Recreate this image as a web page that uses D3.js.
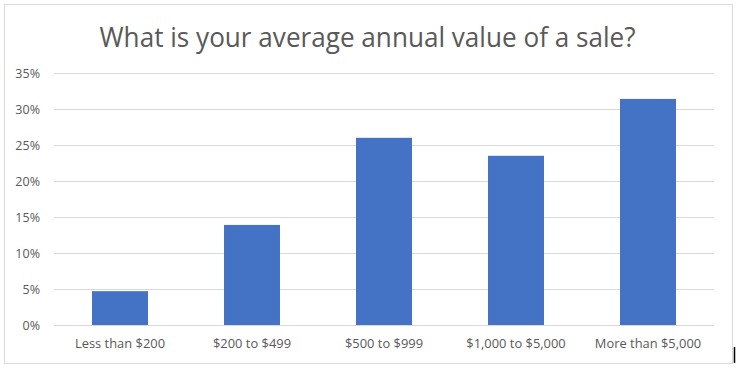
<!DOCTYPE html>
<html>
<head>
<meta charset="utf-8">
<script src="https://cdn.jsdelivr.net/npm/d3@7"></script>
<style>
  html, body { margin: 0; padding: 0; background: #fff; }
  svg { display: block; }
  text { font-family: "Open Sans", sans-serif; fill: #595959; }
</style>
</head>
<body>
<svg id="chart" width="739" height="372"></svg>
<script>
const title = "What is your average annual value of a sale?";
const categories = ["Less than $200", "$200 to $499", "$500 to $999", "$1,000 to $5,000", "More than $5,000"];
const values = [0.047, 0.139, 0.260, 0.235, 0.314];
const yTicks = [0, 0.05, 0.10, 0.15, 0.20, 0.25, 0.30, 0.35];

const svg = d3.select("#chart");
const W = 739, H = 372;
const m = { left: 54, right: 25, top: 73, bottom: 47 };

// chart frame
svg.append("rect").attr("x", 4.5).attr("y", 4.5).attr("width", 728).attr("height", 359)
  .attr("fill", "#fff").attr("stroke", "#d9d9d9").attr("stroke-width", 1);

const x = d3.scaleBand().domain(categories).range([m.left, W - m.right]).paddingInner(0.576).paddingOuter(0.288);
const y = d3.scaleLinear().domain([0, 0.35]).range([H - m.bottom, m.top]);

// gridlines
svg.append("g").selectAll("line").data(yTicks).join("line")
  .attr("x1", m.left).attr("x2", W - m.right)
  .attr("y1", d => Math.round(y(d)) + 0.5).attr("y2", d => Math.round(y(d)) + 0.5)
  .attr("stroke", "#d9d9d9").attr("stroke-width", 1);

// y axis labels
const yAxis = d3.axisLeft(y).tickValues(yTicks).tickFormat(d3.format(".0%")).tickSize(0).tickPadding(0);
const yg = svg.append("g").attr("transform", `translate(40,0)`).call(yAxis);
yg.select(".domain").remove();
yg.selectAll("text").style("font-family", "'Open Sans', sans-serif").style("font-size", "12.5px").attr("fill", "#595959");

// bars
svg.append("g").selectAll("rect").data(values).join("rect")
  .attr("x", (d, i) => x(categories[i]))
  .attr("width", x.bandwidth())
  .attr("y", d => y(d))
  .attr("height", d => y(0) - y(d))
  .attr("fill", "#4472c4");

// x axis labels
const xAxis = d3.axisBottom(x).tickSize(0).tickPadding(0);
const xg = svg.append("g").attr("transform", `translate(0,${H - m.bottom})`).call(xAxis);
xg.select(".domain").remove();
const xt = xg.selectAll("text").attr("dy", null).attr("y", 23)
  .style("font-family", "'Open Sans', sans-serif").style("font-size", "13px").attr("fill", "#595959");
const refW = xt.nodes()[0].getComputedTextLength();
const fx = 90 / refW;
xt.each(function() {
  const w = this.getComputedTextLength();
  d3.select(this).attr("textLength", w * fx).attr("lengthAdjust", "spacingAndGlyphs");
});
yg.selectAll("text").each(function() {
  const w = this.getComputedTextLength();
  d3.select(this).attr("textLength", w * Math.min(1, fx * 1.05)).attr("lengthAdjust", "spacingAndGlyphs");
});

// title
const t = svg.append("text").attr("x", 367.5).attr("y", 46.5).attr("text-anchor", "middle")
  .style("font-family", "'Open Sans', sans-serif").style("font-size", "27px").style("font-weight", 400)
  .attr("fill", "#595959").text(title);
t.attr("textLength", 536).attr("lengthAdjust", "spacingAndGlyphs");

// text cursor artifact at right edge
svg.append("line").attr("x1", 734.5).attr("x2", 734.5).attr("y1", 347).attr("y2", 363)
  .attr("stroke", "#000").attr("stroke-width", 1.5);
</script>
</body>
</html>
